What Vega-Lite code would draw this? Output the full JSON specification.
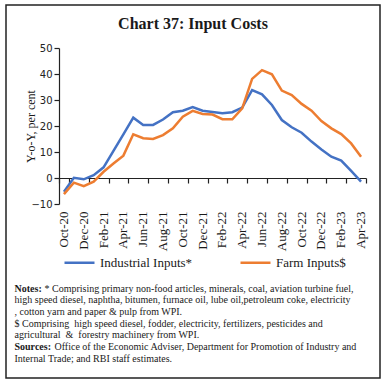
{
  "$schema": "https://vega.github.io/schema/vega-lite/v6.json",
  "width": 374,
  "height": 373,
  "autosize": {"type": "none"},
  "padding": {"left": 6, "top": 5, "right": 5, "bottom": 6},
  "background": "white",
  "title": {"text": "Chart 37: Input Costs", "orient": "top", "anchor": "middle", "frame": "group", "offset": -40, "baseline": "alphabetic", "font": "Liberation Serif", "fontSize": 16, "fontWeight": "bold", "color": "#1a1a1a"},
  "data": {"values": [
    {"month": "Oct-20", "series": "Industrial Inputs*", "value": -5.3}, {"month": "Oct-20", "series": "Farm Inputs$", "value": -6.2},
    {"month": "Nov-20", "series": "Industrial Inputs*", "value": 0.1}, {"month": "Nov-20", "series": "Farm Inputs$", "value": -1.8},
    {"month": "Dec-20", "series": "Industrial Inputs*", "value": -0.5}, {"month": "Dec-20", "series": "Farm Inputs$", "value": -3.1},
    {"month": "Jan-21", "series": "Industrial Inputs*", "value": 1.1}, {"month": "Jan-21", "series": "Farm Inputs$", "value": -1.4},
    {"month": "Feb-21", "series": "Industrial Inputs*", "value": 4.1}, {"month": "Feb-21", "series": "Farm Inputs$", "value": 2.4},
    {"month": "Mar-21", "series": "Industrial Inputs*", "value": 10.4}, {"month": "Mar-21", "series": "Farm Inputs$", "value": 5.6},
    {"month": "Apr-21", "series": "Industrial Inputs*", "value": 16.8}, {"month": "Apr-21", "series": "Farm Inputs$", "value": 8.6},
    {"month": "May-21", "series": "Industrial Inputs*", "value": 23.2}, {"month": "May-21", "series": "Farm Inputs$", "value": 16.8},
    {"month": "Jun-21", "series": "Industrial Inputs*", "value": 20.4}, {"month": "Jun-21", "series": "Farm Inputs$", "value": 15.3},
    {"month": "Jul-21", "series": "Industrial Inputs*", "value": 20.4}, {"month": "Jul-21", "series": "Farm Inputs$", "value": 15.0},
    {"month": "Aug-21", "series": "Industrial Inputs*", "value": 22.5}, {"month": "Aug-21", "series": "Farm Inputs$", "value": 16.5},
    {"month": "Sep-21", "series": "Industrial Inputs*", "value": 25.3}, {"month": "Sep-21", "series": "Farm Inputs$", "value": 19.1},
    {"month": "Oct-21", "series": "Industrial Inputs*", "value": 25.9}, {"month": "Oct-21", "series": "Farm Inputs$", "value": 23.6},
    {"month": "Nov-21", "series": "Industrial Inputs*", "value": 27.3}, {"month": "Nov-21", "series": "Farm Inputs$", "value": 25.8},
    {"month": "Dec-21", "series": "Industrial Inputs*", "value": 25.9}, {"month": "Dec-21", "series": "Farm Inputs$", "value": 24.6},
    {"month": "Jan-22", "series": "Industrial Inputs*", "value": 25.4}, {"month": "Jan-22", "series": "Farm Inputs$", "value": 24.4},
    {"month": "Feb-22", "series": "Industrial Inputs*", "value": 24.9}, {"month": "Feb-22", "series": "Farm Inputs$", "value": 22.6},
    {"month": "Mar-22", "series": "Industrial Inputs*", "value": 25.3}, {"month": "Mar-22", "series": "Farm Inputs$", "value": 22.6},
    {"month": "Apr-22", "series": "Industrial Inputs*", "value": 27.1}, {"month": "Apr-22", "series": "Farm Inputs$", "value": 26.8},
    {"month": "May-22", "series": "Industrial Inputs*", "value": 33.8}, {"month": "May-22", "series": "Farm Inputs$", "value": 38.1},
    {"month": "Jun-22", "series": "Industrial Inputs*", "value": 32.2}, {"month": "Jun-22", "series": "Farm Inputs$", "value": 41.5},
    {"month": "Jul-22", "series": "Industrial Inputs*", "value": 28.1}, {"month": "Jul-22", "series": "Farm Inputs$", "value": 39.9},
    {"month": "Aug-22", "series": "Industrial Inputs*", "value": 22.3}, {"month": "Aug-22", "series": "Farm Inputs$", "value": 33.6},
    {"month": "Sep-22", "series": "Industrial Inputs*", "value": 19.5}, {"month": "Sep-22", "series": "Farm Inputs$", "value": 31.9},
    {"month": "Oct-22", "series": "Industrial Inputs*", "value": 17.4}, {"month": "Oct-22", "series": "Farm Inputs$", "value": 28.5},
    {"month": "Nov-22", "series": "Industrial Inputs*", "value": 14.0}, {"month": "Nov-22", "series": "Farm Inputs$", "value": 25.9},
    {"month": "Dec-22", "series": "Industrial Inputs*", "value": 11.0}, {"month": "Dec-22", "series": "Farm Inputs$", "value": 21.9},
    {"month": "Jan-23", "series": "Industrial Inputs*", "value": 8.2}, {"month": "Jan-23", "series": "Farm Inputs$", "value": 19.1},
    {"month": "Feb-23", "series": "Industrial Inputs*", "value": 6.7}, {"month": "Feb-23", "series": "Farm Inputs$", "value": 16.9},
    {"month": "Mar-23", "series": "Industrial Inputs*", "value": 2.7}, {"month": "Mar-23", "series": "Farm Inputs$", "value": 13.3},
    {"month": "Apr-23", "series": "Industrial Inputs*", "value": -1.4}, {"month": "Apr-23", "series": "Farm Inputs$", "value": 8.2}
  ]},
  "layer": [
    {
      "mark": {"type": "line", "strokeWidth": 2.5},
      "encoding": {
        "x": {
          "field": "month", "type": "ordinal", "sort": null,
          "scale": {"type": "band", "range": [53, 360], "paddingInner": 0, "paddingOuter": 0},
          "axis": {
            "orient": "bottom", "offset": -200,
            "values": ["Oct-20","Dec-20","Feb-21","Apr-21","Jun-21","Aug-21","Oct-21","Dec-21","Feb-22","Apr-22","Jun-22","Aug-22","Oct-22","Dec-22","Feb-23","Apr-23"],
            "tickBand": "extent", "labels": false, "ticks": true, "tickSize": 5, "tickColor": "#222", "tickWidth": 1.2,
            "domain": true, "domainColor": "#222", "domainWidth": 1.2, "grid": false,
            "title": ["Notes:", "\u200b", "\u200b", "\u200b", "\u200b", "Sources:"],
            "titleFont": "Liberation Serif", "titleFontWeight": "bold", "titleFontSize": 10, "titleColor": "#1a1a1a",
            "titleX": 8, "titleY": 113, "titleAlign": "left", "titleAnchor": "start", "titleBaseline": "alphabetic", "titleLineHeight": 11.7
          }
        },
        "y": {
          "field": "value", "type": "quantitative",
          "scale": {"domain": [-10, 50], "range": [199, 43], "nice": false, "zero": false},
          "axis": {
            "orient": "left", "offset": -53, "values": [-10, 0, 10, 20, 30, 40, 50], "grid": false,
            "tickSize": 5, "tickColor": "#222", "tickWidth": 1.2, "domainColor": "#222", "domainWidth": 1.2,
            "labelFont": "DejaVu Sans", "labelFontSize": 10, "labelColor": "#222", "labelPadding": 2,
            "title": "Y-o-Y, per cent", "titleFont": "Liberation Serif", "titleFontSize": 12, "titleFontWeight": "normal", "titleColor": "#1a1a1a",
            "titleX": -29, "titleAngle": 270, "titleBaseline": "middle", "titleAlign": "center"
          }
        },
        "color": {
          "field": "series", "type": "nominal",
          "scale": {"domain": ["Industrial Inputs*", "Farm Inputs$"], "range": ["#4472C4", "#ED7D31"]},
          "legend": {
            "orient": "none", "legendX": 57, "legendY": 241, "direction": "horizontal", "title": null,
            "symbolType": "stroke", "symbolSize": 900, "symbolStrokeWidth": 2.5,
            "labelFont": "Liberation Serif", "labelFontSize": 13, "labelColor": "#1a1a1a",
            "columnPadding": 42, "labelOffset": 4, "padding": 0
          }
        }
      }
    },
    {
      "mark": {"type": "point", "opacity": 0},
      "encoding": {
        "x": {
          "field": "month", "type": "ordinal", "sort": null,
          "axis": {
            "orient": "bottom", "offset": -174,
            "values": ["Oct-20","Dec-20","Feb-21","Apr-21","Jun-21","Aug-21","Oct-21","Dec-21","Feb-22","Apr-22","Jun-22","Aug-22","Oct-22","Dec-22","Feb-23","Apr-23"],
            "ticks": false, "tickSize": 0, "domain": false, "grid": false,
            "labelAngle": 270, "labelAlign": "right", "labelBaseline": "middle", "labelPadding": 7,
            "labelOverlap": false, "labelBound": false,
            "labelFont": "Liberation Serif", "labelFontSize": 13, "labelColor": "#1a1a1a",
            "title": [
              "\u200b\u00a0\u00a0\u00a0\u00a0\u00a0\u00a0\u00a0\u00a0\u00a0\u00a0\u00a0\u00a0* Comprising primary non-food articles, minerals, coal, aviation turbine fuel,",
              "high speed diesel, naphtha, bitumen, furnace oil, lube oil,petroleum coke, electricity",
              ", cotton yarn and paper & pulp from WPI.",
              "$ Comprising \u00a0high speed diesel, fodder, electricity, fertilizers, pesticides and",
              "agricultural \u00a0& \u00a0forestry machinery from WPI.",
              "\u200b\u00a0\u00a0\u00a0\u00a0\u00a0\u00a0\u00a0\u00a0\u00a0\u00a0\u00a0\u00a0\u00a0\u00a0\u00a0\u00a0Office of the Economic Adviser, Department for Promotion of Industry and",
              "Internal Trade; and RBI staff estimates."
            ],
            "titleFont": "Liberation Serif", "titleFontWeight": "normal", "titleFontSize": 10, "titleColor": "#1a1a1a",
            "titleX": 8, "titleY": 87, "titleAlign": "left", "titleAnchor": "start", "titleBaseline": "alphabetic", "titleLineHeight": 11.7
          }
        },
        "y": {"field": "value", "type": "quantitative"}
      }
    }
  ],
  "resolve": {"axis": {"x": "independent"}},
  "config": {"font": "Liberation Serif", "view": {"stroke": "#222", "strokeWidth": 1.5}, "legend": {"labelFont": "Liberation Serif"}}
}
